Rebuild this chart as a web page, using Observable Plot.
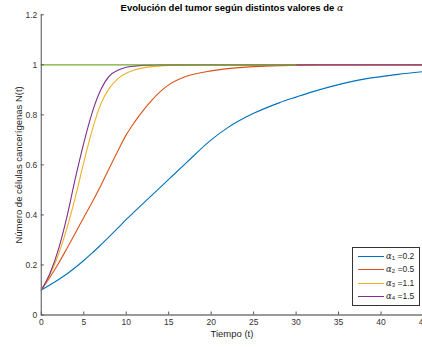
<!DOCTYPE html>
<html><head><meta charset="utf-8">
<script src="https://cdn.jsdelivr.net/npm/d3@7"></script>
<script src="https://cdn.jsdelivr.net/npm/@observablehq/plot@0.6"></script>
<style>
body{margin:0;background:#fff;overflow:hidden;}
#wrap{position:relative;width:422px;height:347px;font-family:"Liberation Sans",Arial,sans-serif;overflow:hidden;}
#title{position:absolute;left:42px;top:2px;width:380px;text-align:center;font-weight:bold;font-size:9.5px;line-height:11px;color:#000;white-space:nowrap;}
#legend{position:absolute;left:352px;top:247px;width:68px;height:59px;border:1px solid #333;background:#fff;box-sizing:border-box;font-size:8.5px;color:#262626;}
.row{position:absolute;left:0;height:12px;width:66px;}
.sw{position:absolute;left:5px;top:6px;width:26px;height:0;border-top:1px solid;}
.lab{position:absolute;left:33px;top:0;line-height:12px;white-space:nowrap;}
.lab sub{font-size:6px;vertical-align:-1px;}
svg{display:block;}
</style></head>
<body><div id="wrap"><div id="title">Evolución del tumor según distintos valores de <i style="font-family:'DejaVu Serif',serif;font-weight:normal;">α</i></div></div>
<script>
const titleText = "Evolución del tumor según distintos valores de α";
const xLabel = "Tiempo (t)";
const yLabel = "Número de células cancerígenas N(t)";
const xTicks = [0,5,10,15,20,25,30,35,40,45];
const yTicks = [0,0.2,0.4,0.6,0.8,1,1.2];
const yTickLabels = ["0","0.2","0.4","0.6","0.8","1","1.2"];
const seriesNames = ["α1 =0.2","α2 =0.5","α3 =1.1","α4 =1.5"];
const alphaSub = ["1","2","3","4"];
const alphaVal = ["0.2","0.5","1.1","1.5"];
const colors = ["#0072BD","#D95319","#EDB120","#7E2F8E"];
const greenColor = "#77AC30";

const t  = [0,1,2,3,4,5,6,7,8,9,10,11,12,13,14,15,17,20,22,25,28,30,32,35,38,40,42,45];
const n1 = [0.1,0.12,0.141,0.164,0.19,0.218,0.248,0.28,0.313,0.347,0.382,0.414,0.446,0.478,0.51,0.542,0.606,0.70,0.75,0.806,0.848,0.871,0.893,0.921,0.943,0.953,0.962,0.973];
const n2 = [0.1,0.15,0.205,0.265,0.327,0.39,0.452,0.517,0.587,0.655,0.72,0.772,0.818,0.858,0.893,0.92,0.953,0.976,0.985,0.993,0.997,0.998,0.999,1,1,1,1,1];
const n3 = [0.1,0.16,0.24,0.345,0.47,0.61,0.74,0.843,0.906,0.944,0.966,0.98,0.988,0.993,0.996,0.998,0.999,1,1,1,1,1,1,1,1,1,1,1];
const n4 = [0.1,0.165,0.26,0.39,0.545,0.687,0.81,0.9,0.955,0.978,0.99,0.995,0.998,0.999,1,1,1,1,1,1,1,1,1,1,1,1,1,1];
const tGreen = [0,30];
const nGreen = [1,1];

const series = [n1,n2,n3,n4];
const rows = [];
series.forEach((s,k)=> s.forEach((v,i)=> rows.push({t:t[i], v, s:seriesNames[k]})));
const green = tGreen.map((x,i)=>({t:x, v:nGreen[i]}));

const chart = Plot.plot({
  width: 422, height: 347,
  marginLeft: 40.8, marginRight: 0, marginTop: 14.3, marginBottom: 32.5,
  style: {fontFamily: "'Liberation Sans', Arial, sans-serif", fontSize: "8.5px", color: "#333", background: "#fff"},
  x: {domain: [0,45], range: [40.8, 423]},
  y: {domain: [0,1.2], range: [314.5, 14.3]},
  color: {domain: seriesNames, range: colors},
  marks: [
    Plot.axisX(xTicks, {tickSize: 0, tickPadding: 4, label: null, tickFormat: d => String(d)}),
    Plot.axisY(yTicks, {tickSize: 0, tickPadding: 4, label: null, tickFormat: (d,i) => yTickLabels[i]}),
    Plot.line(rows, {x: "t", y: "v", z: "s", stroke: "s", strokeWidth: 1.1, curve: "monotone-x"}),
    Plot.line(green, {x: "t", y: "v", stroke: greenColor, strokeWidth: 1.1}),
    Plot.ruleY([0], {stroke: "#777", strokeWidth: 1.3}),
    Plot.ruleX([0], {stroke: "#777", strokeWidth: 1.3}),
    Plot.ruleX(xTicks, {x: d => d, y1: 0, y2: 0.012, stroke: "#555"}),
    Plot.ruleY(yTicks, {y: d => d, x1: 0, x2: 0.36, stroke: "#555"}),
    Plot.text([xLabel], {frameAnchor: "bottom", lineAnchor: "top", dy: 15.5, fontSize: 9.5, fill: "#262626"}),
    Plot.text([yLabel], {frameAnchor: "left", textAnchor: "middle", lineAnchor: "top", rotate: -90, dx: -26.5, fontSize: 9.5, fill: "#262626"})
  ]
});
document.getElementById("wrap").prepend(chart);

const legend = d3.select("#wrap").append("div").attr("id","legend");
seriesNames.forEach((name,i)=>{
  const r = legend.append("div").attr("class","row").style("top", (2 + i*13.3) + "px");
  r.append("div").attr("class","sw").style("border-color", colors[i]);
  r.append("div").attr("class","lab").html(`<i style="font-family:'DejaVu Serif',serif">α</i><sub>${alphaSub[i]}</sub> =${alphaVal[i]}`);
});
</script>
</body></html>
